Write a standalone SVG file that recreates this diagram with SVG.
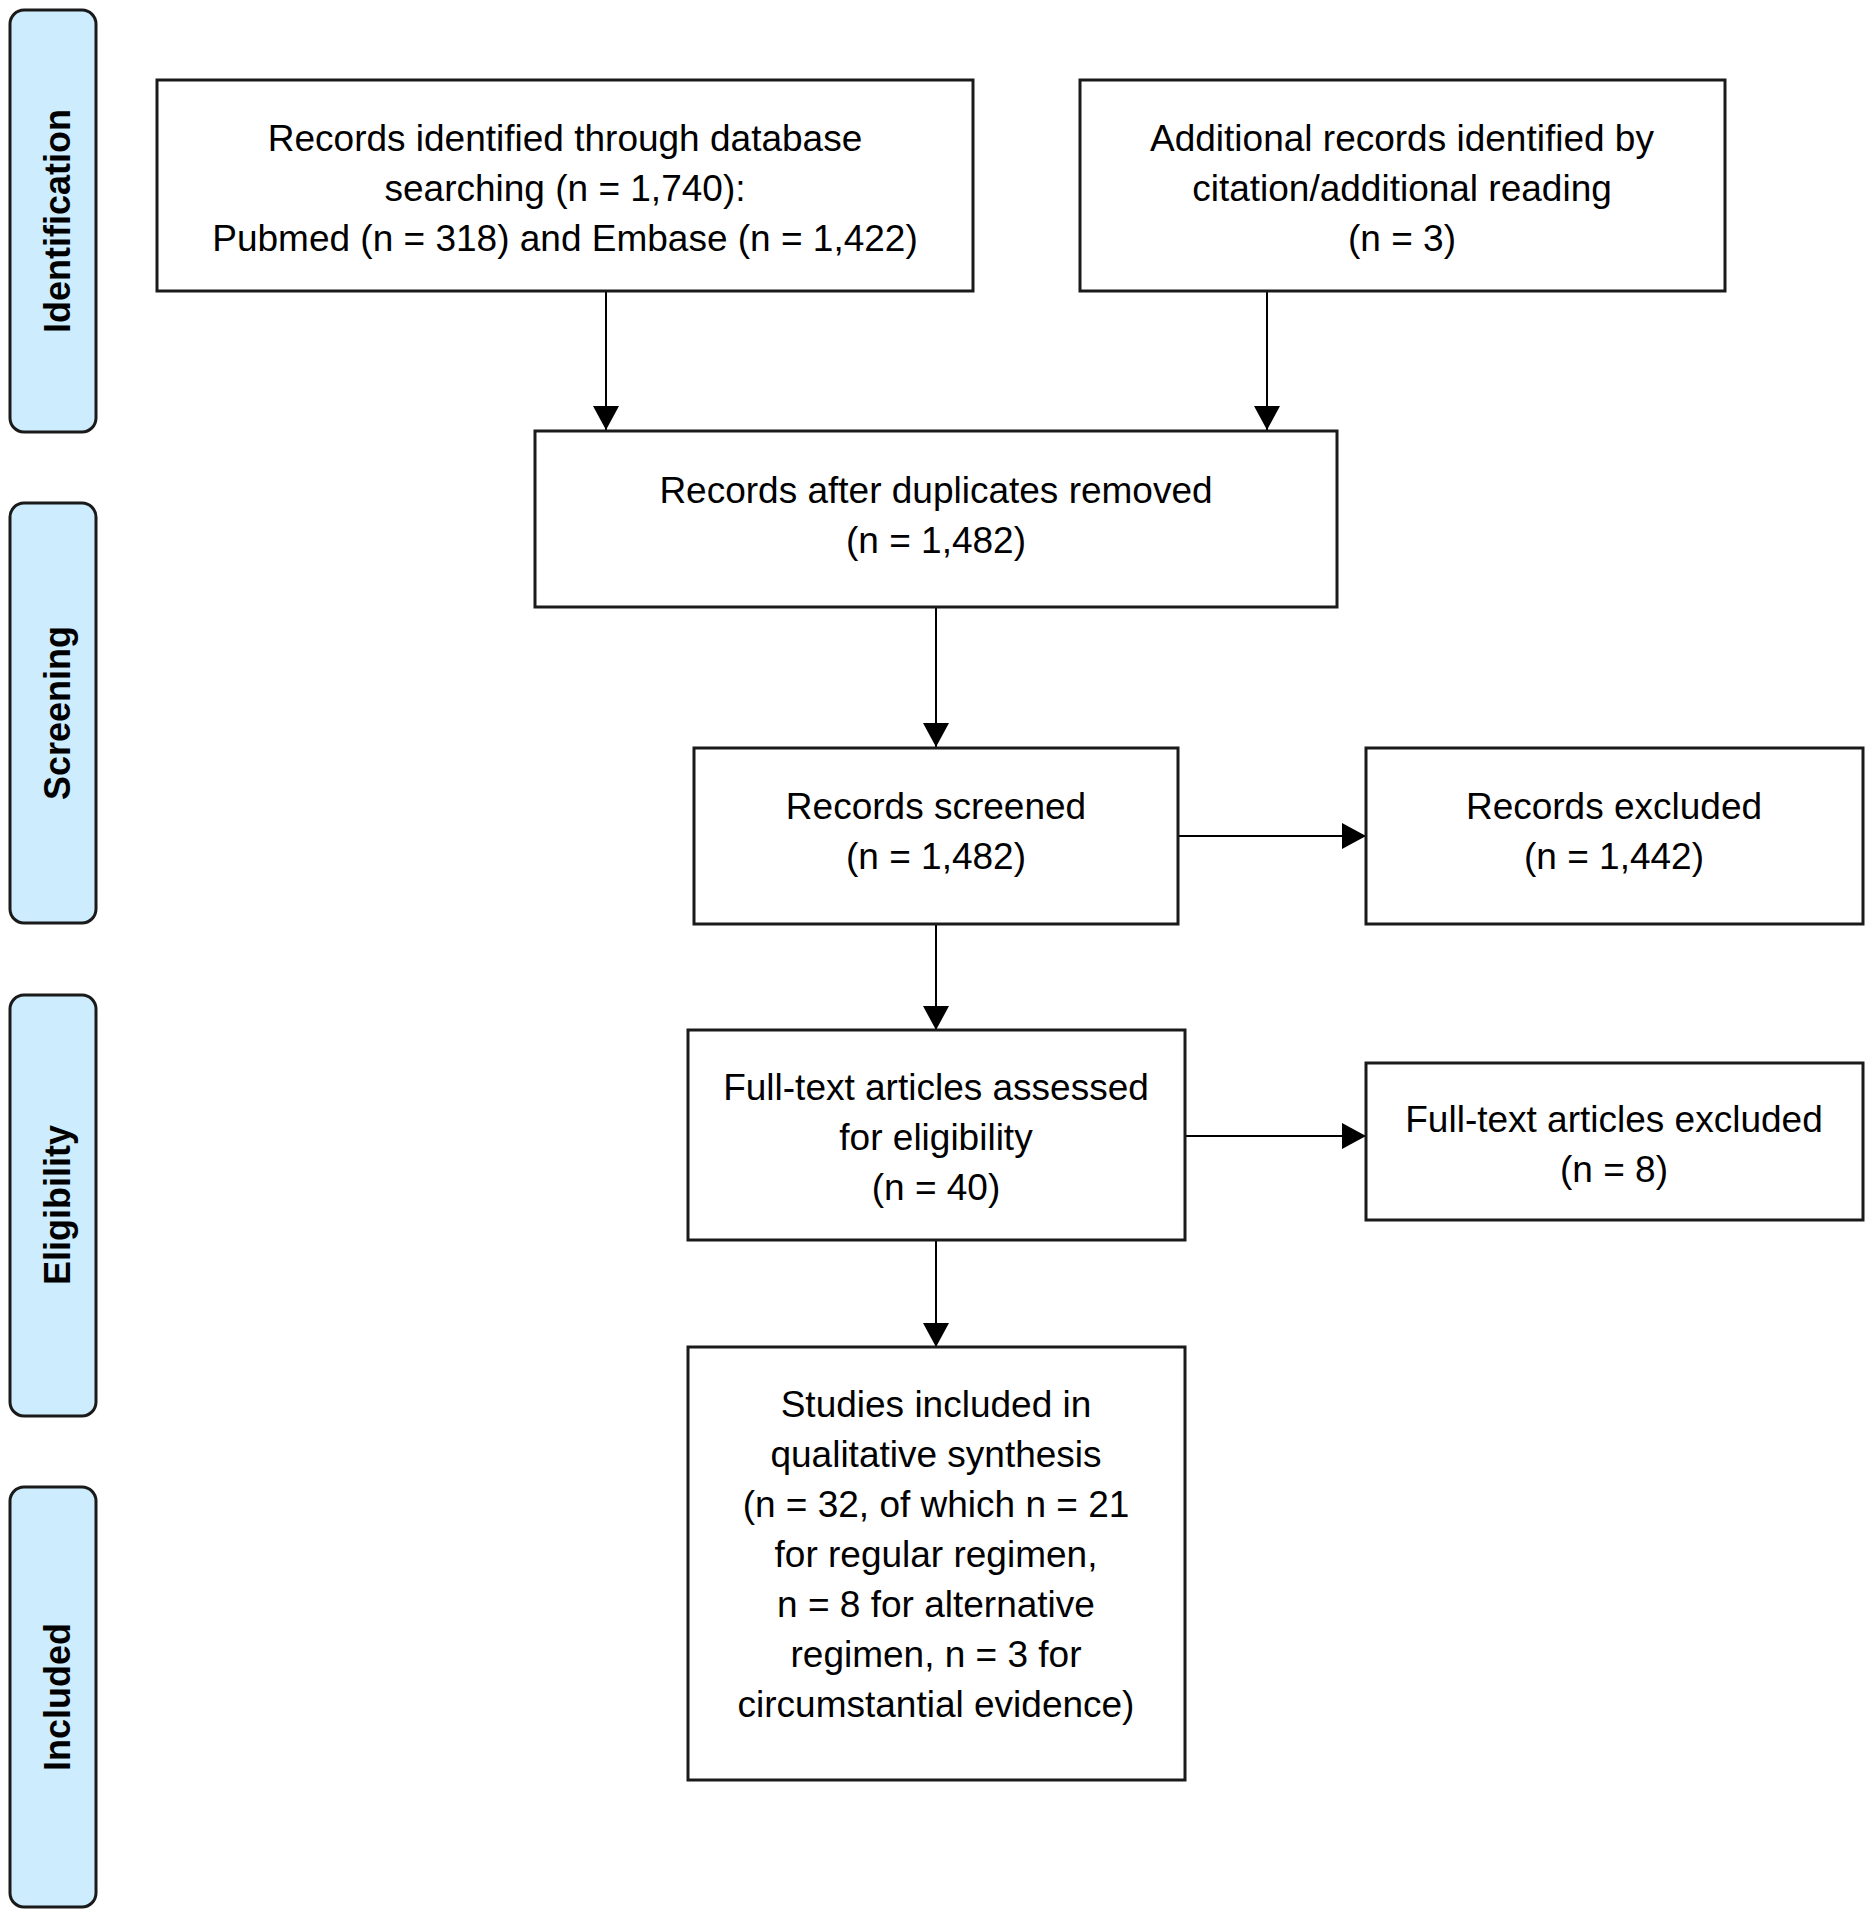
<svg xmlns="http://www.w3.org/2000/svg" width="1873" height="1920" viewBox="0 0 1873 1920">
<style>
.phase{fill:#cdecfd;stroke:#1a1a1a;stroke-width:3}
.ptxt{font-family:"Liberation Sans",Arial,sans-serif;font-weight:bold;font-size:36px;fill:#000;text-anchor:middle}
.box{fill:#fff;stroke:#1a1a1a;stroke-width:3}
.t{font-family:"Liberation Sans",Arial,sans-serif;font-size:37px;fill:#000;text-anchor:middle}
.c{stroke:#000;stroke-width:2;fill:none;marker-end:url(#ah)}
</style>
<defs>
<marker id="ah" markerWidth="26" markerHeight="26" refX="24" refY="13" orient="auto" markerUnits="userSpaceOnUse">
<path d="M0,0 L24,13 L0,26 Z" fill="#000"/>
</marker>
</defs>
<rect width="1873" height="1920" fill="#fff"/>
<g id="phase-identification"><rect class="phase" x="10" y="10" width="86" height="422" rx="14"/><text class="ptxt" transform="translate(70,221) rotate(-90)">Identification</text></g>
<g id="phase-screening"><rect class="phase" x="10" y="503" width="86" height="420" rx="14"/><text class="ptxt" transform="translate(70,713) rotate(-90)">Screening</text></g>
<g id="phase-eligibility"><rect class="phase" x="10" y="995" width="86" height="421" rx="14"/><text class="ptxt" transform="translate(70,1205) rotate(-90)">Eligibility</text></g>
<g id="phase-included"><rect class="phase" x="10" y="1487" width="86" height="420" rx="14"/><text class="ptxt" transform="translate(70,1697) rotate(-90)">Included</text></g>

<g id="connectors">
<line class="c" x1="606" y1="291" x2="606" y2="430"/>
<line class="c" x1="1267" y1="291" x2="1267" y2="430"/>
<line class="c" x1="936" y1="607" x2="936" y2="747"/>
<line class="c" x1="1178" y1="836" x2="1366" y2="836"/>
<line class="c" x1="936" y1="924" x2="936" y2="1030"/>
<line class="c" x1="1185" y1="1136" x2="1366" y2="1136"/>
<line class="c" x1="936" y1="1240" x2="936" y2="1347"/>
</g>

<g id="db-records"><rect class="box" x="157" y="80" width="816" height="211"/>
<text class="t" x="565" y="151">Records identified through database</text>
<text class="t" x="565" y="201">searching (n = 1,740):</text>
<text class="t" x="565" y="251">Pubmed (n = 318) and Embase (n = 1,422)</text></g>

<g id="additional-records"><rect class="box" x="1080" y="80" width="645" height="211"/>
<text class="t" x="1402" y="151">Additional records identified by</text>
<text class="t" x="1402" y="201">citation/additional reading</text>
<text class="t" x="1402" y="251">(n = 3)</text></g>

<g id="after-duplicates"><rect class="box" x="535" y="431" width="802" height="176"/>
<text class="t" x="936" y="503">Records after duplicates removed</text>
<text class="t" x="936" y="553">(n = 1,482)</text></g>

<g id="screened"><rect class="box" x="694" y="748" width="484" height="176"/>
<text class="t" x="936" y="819">Records screened</text>
<text class="t" x="936" y="869">(n = 1,482)</text></g>

<g id="records-excluded"><rect class="box" x="1366" y="748" width="497" height="176"/>
<text class="t" x="1614" y="819">Records excluded</text>
<text class="t" x="1614" y="869">(n = 1,442)</text></g>

<g id="assessed"><rect class="box" x="688" y="1030" width="497" height="210"/>
<text class="t" x="936" y="1100">Full-text articles assessed</text>
<text class="t" x="936" y="1150">for eligibility</text>
<text class="t" x="936" y="1200">(n = 40)</text></g>

<g id="fulltext-excluded"><rect class="box" x="1366" y="1063" width="497" height="157"/>
<text class="t" x="1614" y="1132">Full-text articles excluded</text>
<text class="t" x="1614" y="1182">(n = 8)</text></g>

<g id="included"><rect class="box" x="688" y="1347" width="497" height="433"/>
<text class="t" x="936" y="1417">Studies included in</text>
<text class="t" x="936" y="1467">qualitative synthesis</text>
<text class="t" x="936" y="1517">(n = 32, of which n = 21</text>
<text class="t" x="936" y="1567">for regular regimen,</text>
<text class="t" x="936" y="1617">n = 8 for alternative</text>
<text class="t" x="936" y="1667">regimen, n = 3 for</text>
<text class="t" x="936" y="1717">circumstantial evidence)</text></g>
</svg>
